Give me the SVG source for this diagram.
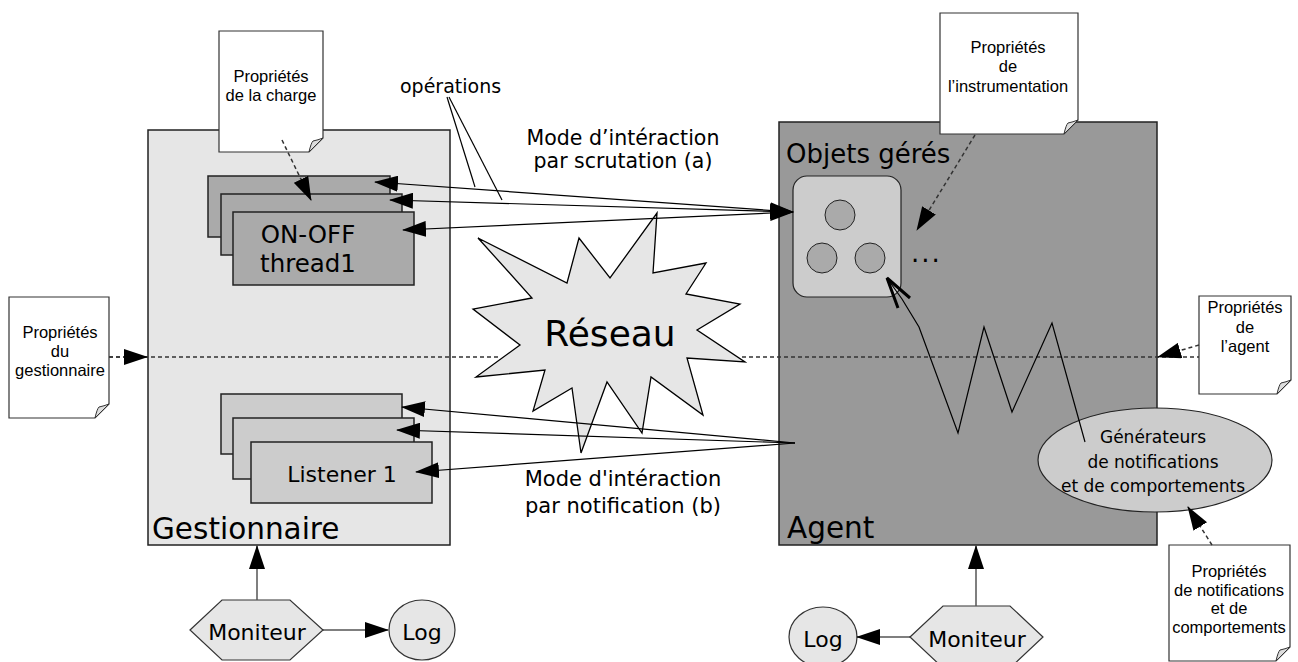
<svg xmlns="http://www.w3.org/2000/svg" width="1298" height="662" viewBox="0 0 1298 662">
<defs>
<marker id="ah" markerUnits="userSpaceOnUse" markerWidth="24" markerHeight="16" refX="23" refY="8" orient="auto-start-reverse" viewBox="0 0 24 16"><path d="M0,0 L24,8 L0,16 z" fill="#000"/></marker>
<style>
.box{stroke:#222;stroke-width:1.5}
.note{fill:#fff;stroke:#333;stroke-width:1.2}
.fold{fill:#ddd;stroke:#333;stroke-width:1}
.nt{font-family:"Liberation Sans",Arial,sans-serif;font-size:16.5px;fill:#000;text-anchor:middle}
.dv{font-family:"DejaVu Sans",Verdana,sans-serif;fill:#000}
.c{text-anchor:middle}
.ln{stroke:#000;stroke-width:1.2;fill:none}
.dash{stroke:#333;stroke-width:1.5;stroke-dasharray:4 3;fill:none}
</style>
</defs>
<rect width="1298" height="662" fill="#fff"/>

<g id="gestionnaire">
<rect class="box" x="148" y="130" width="302" height="415" fill="#e6e6e6"/>
<text class="dv" x="152" y="539" font-size="29.5">Gestionnaire</text>
</g>

<g id="agent">
<rect class="box" x="779" y="122" width="378" height="423" fill="#999"/>
<text class="dv" x="787" y="538" font-size="29.5">Agent</text>
</g>

<g id="note-charge">
<path class="note" d="M219,31 H323 V138 L309,152 H219 Z"/>
<path class="fold" d="M323,138 L309,152 Q311,143 313,141 Q318,140 323,138 Z"/>
<text class="nt" x="271" y="82">Propriétés</text>
<text class="nt" x="271" y="101">de la charge</text>
</g>

<g id="note-instrumentation">
<path class="note" d="M940,13 H1078 V120 L1064,134 H940 Z"/>
<path class="fold" d="M1078,120 L1064,134 Q1066,125 1068,123 Q1073,122 1078,120 Z"/>
<text class="nt" x="1008" y="53">Propriétés</text>
<text class="nt" x="1008" y="72">de</text>
<text class="nt" x="1008" y="92">l’instrumentation</text>
</g>

<g id="note-gestionnaire">
<path class="note" d="M9,297 H109 V404 L95,418 H9 Z"/>
<path class="fold" d="M109,404 L95,418 Q97,409 99,407 Q104,406 109,404 Z"/>
<text class="nt" x="60" y="338">Propriétés</text>
<text class="nt" x="60" y="357">du</text>
<text class="nt" x="60" y="376">gestionnaire</text>
</g>

<g id="note-agent">
<path class="note" d="M1199,296 H1291 V380 L1277,394 H1199 Z"/>
<path class="fold" d="M1291,380 L1277,394 Q1279,385 1281,383 Q1286,382 1291,380 Z"/>
<text class="nt" x="1245" y="313">Propriétés</text>
<text class="nt" x="1245" y="333">de</text>
<text class="nt" x="1245" y="352">l’agent</text>
</g>

<g id="note-notifications">
<path class="note" d="M1169,545 H1290 V647 L1276,661 H1169 Z"/>
<path class="fold" d="M1290,647 L1276,661 Q1278,652 1280,650 Q1285,649 1290,647 Z"/>
<text class="nt" x="1229" y="577">Propriétés</text>
<text class="nt" x="1229" y="596">de notifications</text>
<text class="nt" x="1229" y="614">et de</text>
<text class="nt" x="1229" y="633">comportements</text>
</g>

<g id="threads">
<rect class="box" x="208" y="176" width="182" height="61" fill="#aaa" stroke-width="1.2"/>
<rect class="box" x="221" y="194" width="181" height="61" fill="#aaa" stroke-width="1.2"/>
<rect class="box" x="233" y="212" width="181" height="73" fill="#aaa" stroke-width="1.2"/>
<text class="dv c" x="308" y="243" font-size="24.5">ON-OFF</text>
<text class="dv c" x="308" y="272" font-size="24.5">thread1</text>
</g>

<g id="listeners">
<rect class="box" x="221" y="394" width="181" height="60" fill="#ccc" stroke-width="1.2"/>
<rect class="box" x="233" y="418" width="181" height="61" fill="#ccc" stroke-width="1.2"/>
<rect class="box" x="251" y="442" width="181" height="61" fill="#ccc" stroke-width="1.2"/>
<text class="dv c" x="342" y="482" font-size="22">Listener 1</text>
</g>

<g id="reseau">
<polygon points="478,238 567,283 579,238 610,278 657,213 653,273 706,263 686,294 740,304 697,330 745,362 687,358 703,415 651,377 642,433 607,382 581,453 572,388 533,411 545,370 476,377 520,345 473,309 532,298" fill="#e6e6e6" stroke="#000" stroke-width="1.3"/>
<text class="dv c" x="610" y="346" font-size="36">Réseau</text>
</g>

<g id="objets-geres">
<text class="dv" x="786" y="163" font-size="26">Objets gérés</text>
<rect x="793" y="176" width="108" height="121" rx="14" fill="#ccc" stroke="#222" stroke-width="1.2"/>
<circle cx="840" cy="215" r="15" fill="#aaa" stroke="#222" stroke-width="1"/>
<circle cx="822" cy="258" r="15" fill="#aaa" stroke="#222" stroke-width="1"/>
<circle cx="870" cy="258" r="15" fill="#aaa" stroke="#222" stroke-width="1"/>
<text class="dv" x="911" y="262" font-size="26" letter-spacing="2">...</text>
</g>

<g id="generateurs">
<ellipse cx="1155" cy="460" rx="117" ry="52" fill="#ccc" stroke="#222" stroke-width="1.2"/>
<text class="dv c" x="1153" y="443" font-size="17">Générateurs</text>
<text class="dv c" x="1153" y="468" font-size="17">de notifications</text>
<text class="dv c" x="1153" y="492" font-size="17">et de comportements</text>
</g>

<g id="moniteur-g">
<polygon points="190,630 222,600 290,600 323,630 290,660 222,660" fill="#e6e6e6" stroke="#333" stroke-width="1.2"/>
<text class="dv c" x="257" y="640" font-size="22">Moniteur</text>
</g>
<g id="log-g">
<ellipse cx="422" cy="630" rx="33" ry="30" fill="#e6e6e6" stroke="#333" stroke-width="1.2"/>
<text class="dv c" x="422" y="640" font-size="22">Log</text>
</g>
<g id="moniteur-a">
<polygon points="910,637 943,606 1010,606 1043,637 1010,668 943,668" fill="#e6e6e6" stroke="#333" stroke-width="1.2"/>
<text class="dv c" x="977" y="647" font-size="22">Moniteur</text>
</g>
<g id="log-a">
<ellipse cx="823" cy="637" rx="34" ry="30" fill="#e6e6e6" stroke="#333" stroke-width="1.2"/>
<text class="dv c" x="823" y="647" font-size="22">Log</text>
</g>

<g id="labels">
<text class="dv" x="400" y="93" font-size="19">opérations</text>
<text class="dv c" x="623" y="145" font-size="20.5">Mode d’intéraction</text>
<text class="dv c" x="623" y="168" font-size="20.5">par scrutation (a)</text>
<text class="dv c" x="623" y="486" font-size="21">Mode d'intéraction</text>
<text class="dv c" x="623" y="513" font-size="21">par notification (b)</text>
</g>

<g id="connectors">
<line class="dash" x1="109" y1="357" x2="500" y2="357"/>
<line class="dash" x1="742" y1="357" x2="1199" y2="357"/>
<line class="dash" x1="109" y1="357" x2="147" y2="357" marker-end="url(#ah)"/>
<line class="dash" x1="1199" y1="345" x2="1158" y2="357" marker-end="url(#ah)"/>
<line class="dash" x1="282" y1="140" x2="311" y2="200" marker-end="url(#ah)"/>
<line class="dash" x1="975" y1="135" x2="917" y2="230" marker-end="url(#ah)"/>
<line class="dash" x1="1212" y1="545" x2="1188" y2="507" marker-end="url(#ah)"/>

<line class="ln" x1="375" y1="182" x2="793" y2="212" marker-start="url(#ah)" marker-end="url(#ah)"/>
<line class="ln" x1="390" y1="200" x2="793" y2="212" marker-start="url(#ah)" marker-end="url(#ah)"/>
<line class="ln" x1="403" y1="230" x2="793" y2="212" marker-start="url(#ah)" marker-end="url(#ah)"/>

<line class="ln" x1="447" y1="97" x2="475" y2="187"/>
<line class="ln" x1="449" y1="97" x2="502" y2="200"/>

<line class="ln" x1="795" y1="443" x2="402" y2="407" marker-end="url(#ah)"/>
<line class="ln" x1="795" y1="443" x2="397" y2="430" marker-end="url(#ah)"/>
<line class="ln" x1="795" y1="443" x2="416" y2="472" marker-end="url(#ah)"/>

<polyline class="ln" points="1085,442 1052,323 1012,412 984,327 958,433 919,327 902,299 889,281"/>
<polyline points="898,308 887,278 910,298" fill="none" stroke="#000" stroke-width="3"/>

<line x1="257" y1="600" x2="257" y2="546" stroke="#555" stroke-width="1.5" marker-end="url(#ah)"/>
<line class="ln" x1="323" y1="630" x2="388" y2="630" marker-end="url(#ah)"/>
<line x1="976" y1="606" x2="976" y2="546" stroke="#555" stroke-width="1.5" marker-end="url(#ah)"/>
<line class="ln" x1="910" y1="637" x2="857" y2="637" marker-end="url(#ah)"/>
</g>
</svg>
